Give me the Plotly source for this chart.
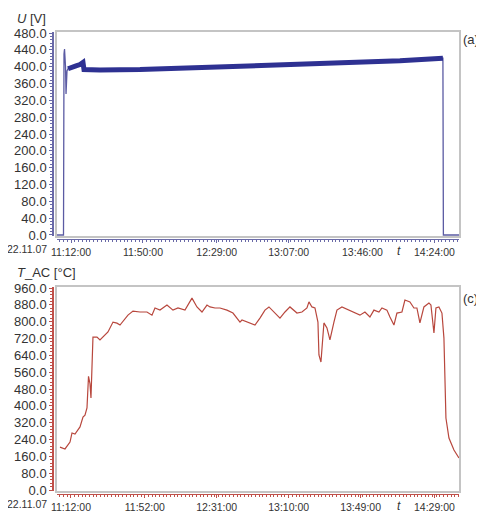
import plotly.graph_objects as go

DATE = "2007-11-22"

# ---- panel (a): voltage U [V]
volt_time = ["11:04:36", "11:08:02", "11:08:18", "11:08:34", "11:09:06", "11:09:22",
             "11:09:53", "11:10:25", "11:12:32", "11:14:38", "11:16:45", "11:18:20",
             "11:18:52", "11:27:18", "11:48:27", "12:20:09", "12:42:20", "13:13:00",
             "13:39:22", "14:05:48", "14:28:30", "14:28:45", "14:37:00"]
volt_val = [0, 0, 430, 442, 400, 335,
            390, 395, 400, 402, 405, 410,
            393, 392, 393, 398, 400, 405,
            410, 414, 420, 0, 0]

# ---- panel (c): temperature T_AC [°C]
temp_time = ["11:06:02", "11:08:45", "11:11:28", "11:12:33", "11:14:10", "11:16:53",
             "11:18:30", "11:19:35", "11:20:40", "11:21:30", "11:22:18", "11:22:50",
             "11:23:55", "11:26:05", "11:27:43", "11:30:26", "11:32:03", "11:34:46",
             "11:36:56", "11:38:34", "11:41:16", "11:42:53", "11:45:36", "11:49:24",
             "11:53:11", "11:55:54", "11:57:32", "12:00:14", "12:04:02", "12:07:17",
             "12:10:00", "12:13:47", "12:17:35", "12:20:17", "12:23:00", "12:25:43",
             "12:27:20", "12:30:03", "12:32:46", "12:36:33", "12:39:48", "12:43:36",
             "12:44:41", "12:48:29", "12:51:44", "12:54:26", "12:57:09", "12:59:19",
             "13:02:02", "13:05:17", "13:08:00", "13:10:42", "13:14:30", "13:17:12",
             "13:19:55", "13:21:00", "13:22:37", "13:24:15", "13:25:52", "13:26:25",
             "13:27:30", "13:29:07", "13:30:45", "13:32:22", "13:34:32", "13:36:10",
             "13:38:52", "13:42:40", "13:45:55", "13:48:38", "13:51:20", "13:54:03",
             "13:56:13", "13:58:56", "14:00:34", "14:03:16", "14:04:54", "14:07:04",
             "14:08:41", "14:11:24", "14:13:01", "14:15:44", "14:17:54", "14:19:31",
             "14:21:09", "14:23:19", "14:26:02", "14:27:07", "14:28:45", "14:29:50",
             "14:31:27", "14:33:05", "14:34:10", "14:34:42", "14:35:15", "14:36:53",
             "14:39:36", "14:42:18"]
temp_val = [204, 195, 228, 271, 266, 300,
            347, 356, 390, 540, 505, 437,
            727, 727, 713, 737, 751, 798,
            793, 784, 817, 831, 850, 846,
            846, 831, 865, 855, 879, 855,
            865, 855, 912, 870, 846, 879,
            870, 865, 865, 855, 841, 798,
            808, 794, 784, 817, 855, 870,
            846, 817, 846, 870, 841, 846,
            865, 894, 870, 865, 798, 642,
            608, 794, 770, 713, 798, 855,
            870, 855, 841, 831, 846, 822,
            855, 846, 865, 855, 822, 784,
            841, 846, 903, 894, 865, 865,
            794, 870, 889, 879, 746, 865,
            870, 841, 722, 499, 342, 247,
            190, 152]

top_ticks = ["11:12:00", "11:50:00", "12:29:00", "13:07:00", "13:46:00", "14:24:00"]
bot_ticks = ["11:12:00", "11:52:00", "12:31:00", "13:10:00", "13:49:00", "14:29:00"]
u_ticks = [0, 40, 80, 120, 160, 200, 240, 280, 320, 360, 400, 440, 480]
t_ticks = [0, 80, 160, 240, 320, 400, 480, 560, 640, 720, 800, 880, 960]

# ---- pixel layout helpers (page body has an 8px margin)
OFF = 8
W, H = 484 - OFF, 512 - OFF
L, R, T, B = 53, 462, 30, 495          # window pixel coords of plot area
def fx(px):
    return (px - L) / (R - L)
def fy(py):
    return (B - py) / (B - T)

def d(t):
    return DATE + " " + t

BLUE = "#2e3192"
BLUE_AX = "#6a6aa8"
RED = "#b8473d"
RED_AX = "#c0504a"
FRAME = "#c4c4c4"
TXT = "#333333"
FONT = "Liberation Sans, Arial, sans-serif"
XFS = 10.5

fig = go.Figure()
fig.add_trace(go.Scatter(x=[d(t) for t in volt_time], y=volt_val, mode="lines",
                         line=dict(color="#5b5ba3", width=1.3), xaxis="x", yaxis="y",
                         hoverinfo="skip"))
band = slice(7, 21)
fig.add_trace(go.Scatter(x=[d(t) for t in volt_time[band]], y=volt_val[band], mode="lines",
                         line=dict(color=BLUE, width=5), xaxis="x", yaxis="y",
                         hoverinfo="skip"))
fig.add_trace(go.Scatter(x=[d(t) for t in temp_time], y=temp_val, mode="lines",
                         line=dict(color=RED, width=1.2), xaxis="x2", yaxis="y2",
                         hoverinfo="skip"))

def xax(ticks, rng, pos, col):
    return dict(type="date", domain=[fx(57), fx(459)], anchor="free", position=pos,
                range=[d(rng[0]), d(rng[1])], automargin=False,
                tickmode="array", tickvals=[d(t) for t in ticks],
                ticktext=ticks,
                ticks="outside", ticklen=3, tickcolor=col, tickwidth=1,
                showline=True, linecolor=col, linewidth=1,
                showgrid=False, zeroline=False,
                minor=dict(ticks="outside", ticklen=2, tickcolor=col,
                           tickmode="linear", tick0=d("11:00:00"), dtick=120000,
                           showgrid=False),
                tickfont=dict(family=FONT, size=XFS, color=TXT))

def yax(ticks, rng, dom, col, minor_dt):
    return dict(domain=dom, anchor="free", position=0, range=rng, automargin=False,
                tickmode="array", tickvals=ticks, ticktext=[f"{v:.1f}" for v in ticks],
                ticks="outside", ticklen=3, tickcolor=col, tickwidth=1,
                showline=True, linecolor=col, linewidth=1.5,
                showgrid=False, zeroline=False,
                minor=dict(ticks="outside", ticklen=2, tickcolor=col,
                           tickmode="linear", tick0=0, dtick=minor_dt, showgrid=False),
                tickfont=dict(family=FONT, size=13, color=TXT))

def frame_ax(dom, anchor):
    return dict(domain=dom, anchor=anchor, range=[0, 1], showline=True, mirror=True,
                linecolor=FRAME, linewidth=1.5, showticklabels=False, ticks="",
                showgrid=False, zeroline=False, automargin=False, fixedrange=True)

# invisible traces so the frame subplots are created
fig.add_trace(go.Scatter(x=[0.5], y=[0.5], mode="markers", marker=dict(opacity=0),
                         xaxis="x3", yaxis="y3", hoverinfo="skip"))
fig.add_trace(go.Scatter(x=[0.5], y=[0.5], mode="markers", marker=dict(opacity=0),
                         xaxis="x4", yaxis="y4", hoverinfo="skip"))

def ann(text, x, y, size, xanchor="left"):
    return dict(text=text, x=fx(x), y=fy(y), xref="paper", yref="paper",
                xanchor=xanchor, yanchor="middle", showarrow=False,
                font=dict(family=FONT, size=size, color=TXT))

fig.update_layout(
    width=W, height=H,
    margin=dict(l=L - OFF, r=484 - R, t=T - OFF, b=512 - B, autoexpand=False),
    paper_bgcolor="white", plot_bgcolor="rgba(0,0,0,0)",
    showlegend=False,
    xaxis=xax(top_ticks, ("11:04:36", "14:37:00"), fy(239), BLUE_AX),
    yaxis=yax(u_ticks, [-2.4, 482.4], [fy(236), fy(32)], BLUE_AX, 8),
    xaxis2=xax(bot_ticks, ("11:04:25", "14:42:20"), fy(494), RED_AX),
    yaxis2=yax(t_ticks, [-4.75, 964.75], [fy(491), fy(287)], RED_AX, 16),
    xaxis3=frame_ax([fx(57), fx(459)], "y3"),
    yaxis3=frame_ax([fy(236), fy(32)], "x3"),
    xaxis4=frame_ax([fx(57), fx(459)], "y4"),
    yaxis4=frame_ax([fy(491), fy(287)], "x4"),
    annotations=[
        ann("<i>U</i> [V]", 15, 19, 13),
        ann("<i>T</i>_AC [°C]", 15, 272, 13),
        ann("(a)", 461, 40, 13),
        ann("(c)", 461, 298, 13),
        ann("<i>t</i>", 399, 251, 12, "center"),
        ann("<i>t</i>", 399, 506, 12, "center"),
        ann("22.11.07", 49, 249, XFS, "right"),
        ann("22.11.07", 49, 504, XFS, "right"),
    ],
)

fig.write_html("out.html")
